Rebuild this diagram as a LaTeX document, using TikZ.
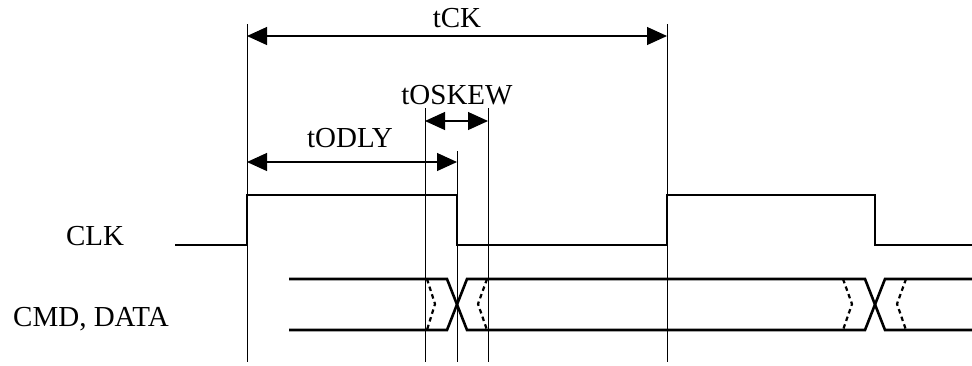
\documentclass[tikz,border=0pt]{standalone}
\usepackage{fontspec}
\setmainfont{Liberation Serif}
\usetikzlibrary{arrows.meta}
\tikzset{
  guide/.style={line width=1pt},
  sig/.style={line width=2.6pt, line join=miter},
  dim/.style={line width=1.1pt, {Triangle[length=20pt,width=18pt]}-{Triangle[length=20pt,width=18pt]}},
  lbl/.style={font=\fontsize{29}{32}\selectfont, inner sep=0pt},
  skew/.style={line width=2.2pt, dash pattern=on 4.5pt off 3.5pt}
}
\begin{document}
\begin{tikzpicture}[x=1pt,y=-1pt]
\useasboundingbox (0,0) rectangle (972,365);
% guide lines
\coordinate (g1t) at (247,24); \coordinate (g1b) at (247,362);
\coordinate (g2t) at (667,24); \coordinate (g2b) at (667,362);
\coordinate (g3t) at (425,108); \coordinate (g3b) at (425,362);
\coordinate (g4t) at (488,108); \coordinate (g4b) at (488,362);
\coordinate (g5t) at (457,151); \coordinate (g5b) at (457,362);
\draw[guide] (g1t) -- (g1b);
\draw[guide] (g2t) -- (g2b);
\draw[guide] (g3t) -- (g3b);
\draw[guide] (g4t) -- (g4b);
\draw[guide] (g5t) -- (g5b);
% dimension arrows
\coordinate (ck1) at (247,36); \coordinate (ck2) at (667,36);
\draw[dim] (ck1) -- (ck2);
\node[lbl] (tck) at (457,18) {tCK};
\coordinate (sk1) at (425,121); \coordinate (sk2) at (488,121);
\draw[dim] (sk1) -- (sk2);
\node[lbl] (tskew) at (457,95) {tOSKEW};
\coordinate (od1) at (247,162); \coordinate (od2) at (457,162);
\draw[dim] (od1) -- (od2);
\node[lbl] (todly) at (350,138) {tODLY};
% CLK
\node[lbl] (clk) at (95,236) {CLK};
\draw[sig] (175,245) -- (247,245) -- (247,195) -- (457,195) -- (457,245)
  -- (667,245) -- (667,195) -- (875,195) -- (875,245) -- (972,245);
% CMD, DATA
\node[lbl] (cmd) at (91,319) {CMD, DATA};
\draw[sig] (289,279) -- (447,279) -- (467,330) -- (865,330) -- (885,279) -- (972,279);
\draw[sig] (289,330) -- (447,330) -- (467,279) -- (865,279) -- (885,330) -- (972,330);
\draw[skew] (427,279) -- (435,304) -- (427,330);
\draw[skew] (487,279) -- (478,304) -- (487,330);
\draw[skew] (843,279) -- (852,304) -- (843,330);
\draw[skew] (906,279) -- (897,304) -- (906,330);
\end{tikzpicture}
\end{document}
